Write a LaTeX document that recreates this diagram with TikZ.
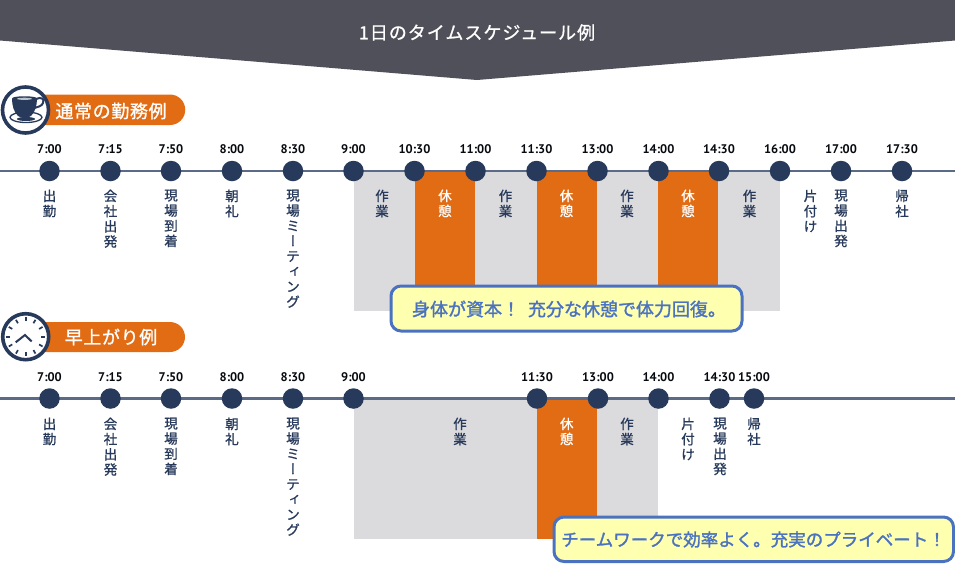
\documentclass[tikz,border=0pt]{standalone}
\usepackage{fontspec}
\usetikzlibrary{calc}
\newfontfamily\cjk[RawFeature={embolden=1.0}]{Noto Sans CJK JP}
\newfontfamily\cjkb[RawFeature={embolden=1.6}]{Noto Sans CJK JP}
\newfontfamily\cjkv[RawFeature={+vert;embolden=1.0}]{Noto Sans CJK JP}
\newfontfamily\numf{PT Sans}
\definecolor{band}{HTML}{50505A}
\definecolor{navy}{HTML}{283A5B}
\definecolor{linec}{HTML}{5B6A86}
\definecolor{grayb}{HTML}{DBDBDE}
\definecolor{orangeb}{HTML}{E26C14}
\definecolor{bluec}{HTML}{4A72C0}
\definecolor{yellowc}{HTML}{FFFFB0}
\tikzset{
  dotn/.style={circle,fill=navy,minimum size=20.5pt,inner sep=0pt},
  timen/.style={font=\numf\bfseries\fontsize{12.5}{12}\selectfont,text=black!85!navy,inner sep=0pt,anchor=center},
  vlab/.style={font=\cjk\fontsize{13.5}{15.2}\selectfont,text=navy,align=center,inner sep=0pt,anchor=north},
  vlabw/.style={vlab,text=white},
  axisl/.style={linec,line width=2.4pt},
  grayblock/.style={fill=grayb,draw=none},
  orangeblock/.style={fill=orangeb,draw=none},
  pill/.style={fill=orangeb,draw=none},
  pilltext/.style={font=\cjk\fontsize{18}{18}\selectfont,text=white,inner sep=0pt},
  callout/.style={draw=bluec,line width=3pt,fill=yellowc,rounded corners=10pt},
  calltext/.style={font=\cjkb\fontsize{18}{18}\selectfont,text=bluec,inner sep=0pt},
  iconring/.style={draw=navy,line width=3.6pt,fill=white},
}
\newcommand{\vv}[1]{{\cjkv #1}}
\begin{document}
\begin{tikzpicture}[x=1pt,y=-1pt]
\useasboundingbox (0,0) rectangle (955,563);
% title band
\fill[band] (0,0) -- (955,0) -- (955,40.5) -- (477,80) -- (0,40.5) -- cycle;
\node[font=\cjk\fontsize{18}{18}\selectfont,text=white,inner sep=0pt] (title) at (477,32.5) {\addfontfeature{LetterSpace=5.5}1日のタイムスケジュール例};

% ---------- row 1 ----------
\fill[grayblock] (354,171) rectangle (780,311);
\fill[orangeblock] (415,171) rectangle (475,311);
\fill[orangeblock] (537,171) rectangle (597,311);
\fill[orangeblock] (658,171) rectangle (718,311);
\coordinate (la) at (0,171); \coordinate (lb) at (955,171);
\draw[axisl] (la) -- (lb);
\foreach \n/\x/\t in {a1/49.5/7:00,a2/110.5/7:15,a3/171/7:50,a4/232/8:00,a5/293/8:30,a6/353.5/9:00,a7/414.5/10:30,a8/475.5/11:00,a9/536.5/11:30,a10/597.5/13:00,a11/658.5/14:00,a12/719/14:30,a13/780/16:00,a14/841/17:00,a15/902/17:30}{
  \node[dotn] (\n) at (\x,171) {};
  \node[timen] (t\n) at (\x,149.5) {\t};
}
\foreach \n/\x/\t in {b1/49.5/{出\\勤},b2/110.5/{会\\社\\出\\発},b3/171/{現\\場\\到\\着},b4/232/{朝\\礼},b5/293/{現\\場\\ミ\\\vv{ー}\\テ\\\vv{ィ}\\ン\\グ},b6/382/{作\\業},b8/505.5/{作\\業},b10/627/{作\\業},b12/749.5/{作\\業},b13/810.5/{片\\付\\け},b14/841/{現\\場\\出\\発},b15/902/{帰\\社}}{
  \node[vlab] (\n) at (\x,189.5) {\t};
}
\foreach \n/\x in {b7/445,b9/566.5,b11/688}{
  \node[vlabw] (\n) at (\x,189.5) {休\\憩};
}
\draw[callout] (391,286) rectangle (742,331);
\node[calltext] (call1) at (569,309) {身体が資本！\hspace{0.44em}充分な休憩で体力回復。};

% heading 1
\fill[pill] (40,94.5) -- (170,94.5) arc[start angle=-90,end angle=90,radius=15.25] -- (40,125) -- cycle;
\node[pilltext] (h1) at (111,111) {\addfontfeature{LetterSpace=3.5}通常の勤務例};
\node[circle,iconring,minimum size=46pt,inner sep=0pt] (cupring) at (25.5,110) {};
% cup
\draw[navy,line width=1.3pt,fill=white] (26,117.3) ellipse[x radius=16,y radius=5.2];
\draw[navy,line width=2pt] (36,99) .. controls (41,96.5) and (45,99) .. (43,103) .. controls (42,106) and (38,107) .. (34,108);
\fill[navy] (12,98.5) .. controls (12,95.5) and (37,95.5) .. (37,98.5) .. controls (37,106) and (35,112) .. (31,116) .. controls (28,118.5) and (21,118.5) .. (18,116) .. controls (14,112) and (12,106) .. (12,98.5) -- cycle;
\fill[navy] (26,119) ellipse[x radius=9,y radius=2];
\fill[white!70!navy] (24.5,98.8) ellipse[x radius=7.5,y radius=1.1];

% ---------- row 2 ----------
\fill[grayblock] (354,398.5) rectangle (658,539);
\fill[orangeblock] (537,398.5) rectangle (597,539);
\coordinate (lc) at (0,398.5); \coordinate (ld) at (955,398.5);
\draw[axisl] (lc) -- (ld);
\foreach \n/\x/\t in {c1/49.5/7:00,c2/110.5/7:15,c3/171/7:50,c4/232/8:00,c5/293/8:30,c6/353.5/9:00,c7/537/11:30,c8/598/13:00,c9/658.5/14:00,c10/719.5/14:30,c11/754/15:00}{
  \node[dotn] (\n) at (\x,398.5) {};
  \node[timen] (t\n) at (\x,377) {\t};
}
\foreach \n/\x/\t in {e1/49.5/{出\\勤},e2/110.5/{会\\社\\出\\発},e3/171/{現\\場\\到\\着},e4/232/{朝\\礼},e5/293/{現\\場\\ミ\\\vv{ー}\\テ\\\vv{ィ}\\ン\\グ},e6/460/{作\\業},e8/627/{作\\業},e9/688/{片\\付\\け},e10/720/{現\\場\\出\\発},e11/754/{帰\\社}}{
  \node[vlab] (\n) at (\x,417.5) {\t};
}
\node[vlabw] (e7) at (566.7,417.5) {休\\憩};
\draw[callout] (554,517) rectangle (953.5,561.5);
\node[calltext,font=\cjkb\fontsize{17.5}{18}\selectfont] (call2) at (753.5,539.5) {チームワークで効率よく。充実のプライベート！};

% heading 2
\fill[pill] (40,322) -- (170,322) arc[start angle=-90,end angle=90,radius=15] -- (40,352) -- cycle;
\node[pilltext] (h2) at (111,337) {\addfontfeature{LetterSpace=3.5}早上がり例};
\node[circle,iconring,minimum size=46pt,inner sep=0pt] (clockring) at (25.7,336.7) {};
\foreach \a in {0,30,...,330}{
  \draw[navy,line width=1.7pt] ($(clockring.center)+(\a:15.5)$) -- ($(clockring.center)+(\a:19.5)$);
}
\coordinate (hv) at (25,335);
\coordinate (hh) at (15.7,342.3);
\coordinate (hm) at (31.7,341.5);
\draw[navy,line width=2pt] (hh) -- (hv) -- (hm);
\end{tikzpicture}
\end{document}
